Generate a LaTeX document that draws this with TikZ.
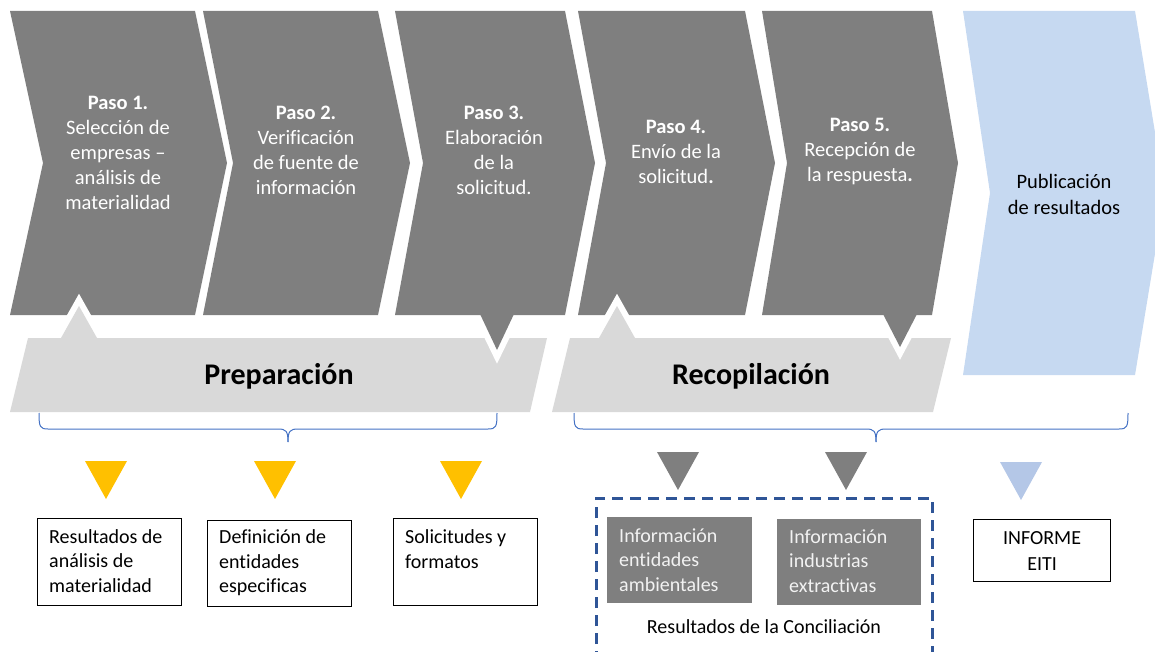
\documentclass[tikz,border=0pt]{standalone}
\usepackage{fontspec}
\setmainfont{Carlito}[Ligatures=NoCommon]
\definecolor{dg}{HTML}{7F7F7F}
\definecolor{lg}{HTML}{D9D9D9}
\definecolor{lb}{HTML}{C6D9F1}
\definecolor{tb}{HTML}{B4C7E7}
\definecolor{yel}{HTML}{FFC000}
\definecolor{db}{HTML}{2F5597}
\definecolor{brc}{HTML}{4472C4}
\definecolor{wt}{HTML}{F2F2F2}
\tikzset{
  chevtxt/.style={text=white, align=center, inner sep=0pt, font=\fontsize{20.5}{25}\selectfont},
  bandtxt/.style={inner sep=0pt, font=\fontsize{30}{34}\selectfont\bfseries},
  boxtxt/.style={align=left, inner sep=0pt, anchor=west, font=\fontsize{20}{24.5}\selectfont},
  outbox/.style={draw=black, line width=1.2pt, fill=white, anchor=north west, inner sep=0pt},
  graybox/.style={fill=dg, anchor=north west, inner sep=0pt},
  whiteedge/.style={white, line width=12pt, line join=miter},
  bracket/.style={brc, line width=1pt},
  dashbox/.style={db, line width=3pt, dash pattern=on 11pt off 7pt},
}
\begin{document}
\begin{tikzpicture}[x=1pt,y=-1pt]
\useasboundingbox (0,0) rectangle (1155,652);
\begin{scope}
\clip (0,0) rectangle (1155,652);
% chevrons
\fill[dg] (10,11) -- (195,11) -- (227,163) -- (195,315) -- (10,315) -- (43,163) -- cycle;
\fill[dg] (203,11) -- (378,11) -- (410,163) -- (378,315) -- (203,315) -- (233,163) -- cycle;
\fill[dg] (395,11) -- (565,11) -- (595,163) -- (565,315) -- (395,315) -- (423,163) -- cycle;
\fill[dg] (578,11) -- (745,11) -- (775,163) -- (745,315) -- (578,315) -- (606,163) -- cycle;
\fill[dg] (762,11) -- (932,11) -- (958,163) -- (932,315) -- (762,315) -- (787,163) -- cycle;
\fill[lb] (963,11) -- (1135,11) -- (1165,193) -- (1135,375) -- (963,375) -- (990,193) -- cycle;
% white outlines of the upward notches
\draw[whiteedge] (61,338) -- (79,306) -- (97,338);
\draw[whiteedge] (599,338) -- (617,306) -- (635,338);
% bands
\fill[lg] (10,412) -- (28,338) -- (61,338) -- (79,306) -- (97,338) -- (547,338) -- (530,412) -- cycle;
\fill[lg] (552,412) -- (570,338) -- (599,338) -- (617,306) -- (635,338) -- (951,338) -- (933,412) -- cycle;
% downward notches
\begin{scope}
\clip (0,328) rectangle (1155,420);
\draw[whiteedge] (480,315) -- (497,350) -- (514,315);
\draw[whiteedge] (883,315) -- (900,347) -- (917,315);
\end{scope}
\fill[dg] (480,314) -- (514,314) -- (497,350) -- cycle;
\fill[dg] (883,314) -- (917,314) -- (900,347) -- cycle;
% dashed frame
\draw[dashbox] (596,662) -- (596,498) -- (932,498) -- (932,662);
\end{scope}

% chevron texts
\node[chevtxt] (t1) at (118,153) {\textbf{Paso 1.}\\Selección de\\empresas –\\análisis de\\materialidad};
\node[chevtxt] (t2) at (306,150) {\textbf{Paso 2.}\\Verificación\\de fuente de\\información};
\node[chevtxt] (t3) at (494,150) {\textbf{Paso 3.}\\Elaboración\\de la\\solicitud.};
\node[chevtxt] (t4) at (676,152) {\textbf{Paso 4.}\\Envío de la\\solicitud\textbf{.}};
\node[chevtxt] (t5) at (860,152) {\textbf{Paso 5.}\\Recepción de\\la respuesta\textbf{.}};
\node[chevtxt, text=black, font=\fontsize{20.5}{26}\selectfont] (t6) at (1064,194) {Publicación\\de resultados};

% band texts
\node[bandtxt] (prep) at (279,376) {Preparación};
\node[bandtxt] (reco) at (751,376) {Recopilación};

% brackets
\draw[bracket] (39,413) .. controls (39,427) and (40,429) .. (48,429) -- (278,429) .. controls (286,429) and (288,431) .. (288,442);
\draw[bracket] (288,442) .. controls (288,431) and (290,429) .. (298,429) -- (488,429) .. controls (496,429) and (497,427) .. (497,413);
\draw[bracket] (574,413) .. controls (574,427) and (575,429) .. (583,429) -- (866,429) .. controls (874,429) and (876,431) .. (876,442);
\draw[bracket] (876,442) .. controls (876,431) and (878,429) .. (886,429) -- (1119,429) .. controls (1127,429) and (1128,427) .. (1128,413);

% triangles
\fill[yel] (85,461) -- (127,461) -- (106,499) -- cycle;
\fill[yel] (254,461) -- (296,461) -- (275,499) -- cycle;
\fill[yel] (440,461) -- (482,461) -- (461,499) -- cycle;
\fill[dg] (657,452) -- (699,452) -- (678,490) -- cycle;
\fill[dg] (825,452) -- (867,452) -- (846,490) -- cycle;
\fill[tb] (1000,462) -- (1042,462) -- (1021,500) -- cycle;

% output boxes
\node[outbox, minimum width=144pt, minimum height=87pt] (b1) at (37,518) {};
\node[boxtxt] (b1t) at (49,561) {Resultados de\\análisis de\\materialidad};
\node[outbox, minimum width=144pt, minimum height=86pt] (b2) at (207,520) {};
\node[boxtxt] (b2t) at (219,563) {Definición de\\entidades\\especificas};
\node[outbox, minimum width=144pt, minimum height=87pt] (b3) at (393,518) {};
\node[boxtxt] (b3t) at (405,549) {Solicitudes y\\formatos};
\node[graybox, minimum width=145pt, minimum height=86pt] (g1) at (607,517) {};
\node[boxtxt, text=wt] (g1t) at (619,560) {Información\\entidades\\ambientales};
\node[graybox, minimum width=144pt, minimum height=86pt] (g2) at (777,519) {};
\node[boxtxt, text=wt] (g2t) at (789,561) {Información\\industrias\\extractivas};
\node[inner sep=0pt, font=\fontsize{20}{24.5}\selectfont] (conc) at (764,627) {Resultados de la Conciliación};
\node[outbox, minimum width=137pt, minimum height=62pt] (b4) at (973,519) {};
\node[align=center, inner sep=0pt, font=\fontsize{20}{26}\selectfont] (b4t) at (b4.center) {INFORME\\EITI};
\end{tikzpicture}
\end{document}
